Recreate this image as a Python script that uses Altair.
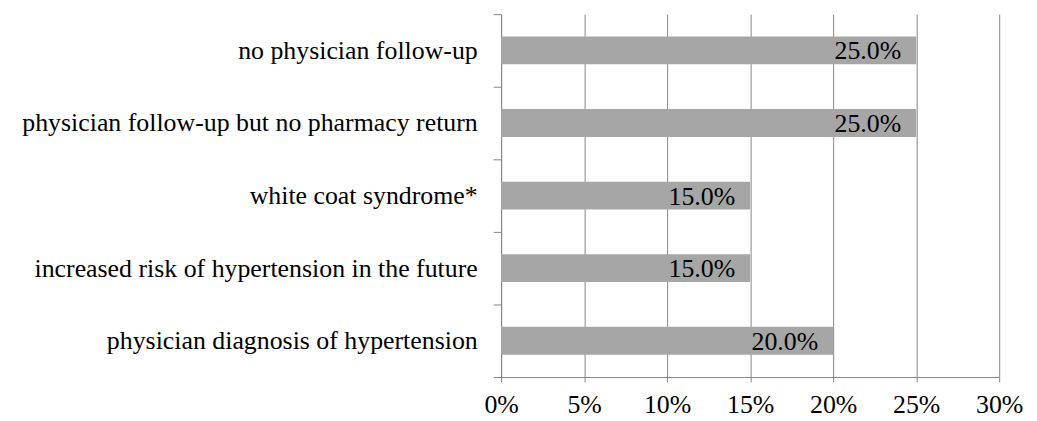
import altair as alt
import pandas as pd

categories = [
    "no physician follow-up",
    "physician follow-up but no pharmacy return",
    "white coat syndrome*",
    "increased risk of hypertension in the future",
    "physician diagnosis of hypertension",
]
values = [0.25, 0.25, 0.15, 0.15, 0.20]
x_ticks = [0, 0.05, 0.10, 0.15, 0.20, 0.25, 0.30]

df = pd.DataFrame({"category": categories, "value": values})

FONT = "Liberation Serif"
AXIS_GRAY = "#868686"

y_enc = alt.Y(
    "category:N",
    sort=categories,
    title=None,
    scale=alt.Scale(paddingInner=0, paddingOuter=0),
    axis=alt.Axis(
        labelFont=FONT,
        labelFontSize=26,
        labelColor="black",
        labelPadding=16,
        labelLimit=0,
        tickSize=8,
        tickBand="extent",
        tickColor=AXIS_GRAY,
        domainColor=AXIS_GRAY,
        grid=False,
    ),
)

x_enc = alt.X(
    "value:Q",
    title=None,
    scale=alt.Scale(domain=[0, 0.30], nice=False),
    axis=alt.Axis(
        values=x_ticks,
        format=".0%",
        labelFont=FONT,
        labelFontSize=26,
        labelColor="black",
        labelPadding=10,
        labelFlush=False,
        labelOverlap=False,
        tickSize=5,
        tickColor=AXIS_GRAY,
        domainColor=AXIS_GRAY,
        grid=True,
        gridColor=AXIS_GRAY,
        gridOpacity=1,
    ),
)

bars = alt.Chart(df).mark_bar(color="#a6a6a6", size=28).encode(x=x_enc, y=y_enc)

text = alt.Chart(df).mark_text(
    align="right", baseline="middle", dx=-15, dy=1,
    font=FONT, fontSize=26, color="black",
).encode(
    x="value:Q",
    y=alt.Y("category:N", sort=categories),
    text=alt.Text("value:Q", format=".1%"),
)

chart = (bars + text).properties(
    width=501,
    height=365,
    padding={"left": 496, "top": 5, "right": 30, "bottom": 40},
    autosize=alt.AutoSizeParams(type="none"),
).configure_view(stroke=None)

chart.save("out.html", embed_options={"renderer": "svg", "actions": False})
